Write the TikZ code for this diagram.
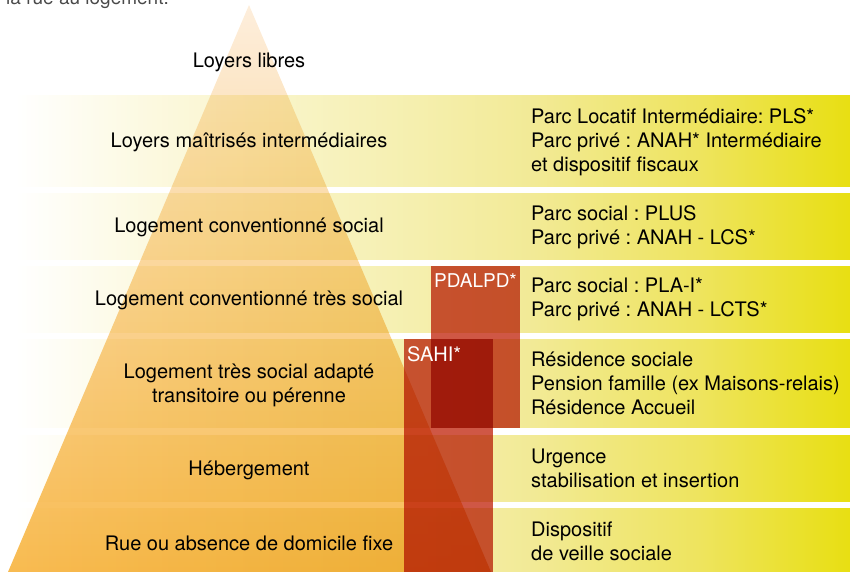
\documentclass[tikz,border=0pt]{standalone}
\usepackage{fontspec}
\setmainfont{TeX Gyre Heros}
\frenchspacing

\definecolor{bandpale}{HTML}{F5EFAE}
\definecolor{bandmid}{HTML}{F2EA96}
\definecolor{bandlow}{HTML}{FCF9E0}
\definecolor{bandhigh}{HTML}{EEE45E}
\definecolor{banddeep}{HTML}{E8DF12}
\definecolor{pyrtop}{HTML}{FDEEDC}
\definecolor{pyrbot}{HTML}{F8BB51}
\definecolor{redbox}{HTML}{CF5745}
\definecolor{introgray}{HTML}{4A4A4A}

\pgfdeclarehorizontalshading{bandfade}{100bp}{color(0bp)=(white); color(25bp)=(white); color(33bp)=(bandlow); color(49bp)=(bandpale); color(56bp)=(bandmid); color(66bp)=(bandhigh); color(75bp)=(banddeep); color(100bp)=(banddeep)}

\begin{document}
\begin{tikzpicture}[x=1pt,y=-1pt,
		lvl/.style={align=center,inner sep=0pt,font=\fontsize{20}{24}\selectfont},
		offer/.style={align=left,anchor=west,inner sep=0pt,font=\fontsize{20}{24}\selectfont},
		tag/.style={anchor=base west,inner sep=0pt,text=white}]
			\useasboundingbox (0,0) rectangle (850,572);
			\node[anchor=base west,inner sep=0pt,text=introgray,font=\fontsize{19}{22}\selectfont] (intro) at (6,5) {la rue au logement.};
			% bandes
			\shade[shading=bandfade] (15,96) rectangle (850,186);
			\shade[shading=bandfade] (15,193) rectangle (850,259);
			\shade[shading=bandfade] (15,266) rectangle (850,332);
			\shade[shading=bandfade] (15,339) rectangle (850,427);
			\shade[shading=bandfade] (15,435) rectangle (850,501);
			\shade[shading=bandfade] (15,508) rectangle (850,572);
			% pyramide
			\shade[top color=pyrtop,bottom color=pyrbot,blend mode=multiply] (249,5) -- (8,572) -- (491,572) -- cycle;
			% dispositifs
			\fill[redbox,blend mode=multiply] (431,266) rectangle (520,428);
			\fill[redbox,blend mode=multiply] (404,339) rectangle (493,572);
			\node[tag,font=\fontsize{19}{22}\selectfont] (pdalpd) at (434,287) {PDALPD*};
			\node[tag,font=\fontsize{20}{22}\selectfont] (sahi) at (407,361) {SAHI*};
			% niveaux
			\node[lvl] (libres) at (249,62) {Loyers libres};
			\node[lvl] (maitrises) at (249,142) {Loyers maîtrisés intermédiaires};
			\node[lvl] (social) at (249,227) {Logement conventionné social};
			\node[lvl] (tressocial) at (249,300) {Logement conventionné très social};
			\node[lvl] (adapte) at (249,385) {Logement très social adapté\\transitoire ou pérenne};
			\node[lvl] (heberg) at (249,470) {Hébergement};
			\node[lvl] (rue) at (249,543) {Rue ou absence de domicile fixe};
			% offres
			\node[offer] (pls) at (531,142) {Parc Locatif Intermédiaire: PLS*\\Parc privé : ANAH* Intermédiaire\\et dispositif fiscaux};
			\node[offer] (plus) at (531,227) {Parc social : PLUS\\Parc privé : ANAH - LCS*};
			\node[offer] (plai) at (531,299) {Parc social : PLA-I*\\Parc privé : ANAH - LCTS*};
			\node[offer] (residence) at (531,383) {Résidence sociale\\Pension famille (ex Maisons-relais)\\Résidence Accueil};
			\node[offer] (urgence) at (531,468) {Urgence\\stabilisation et insertion};
			\node[offer] (veille) at (531,541) {Dispositif\\de veille sociale};
		\end{tikzpicture}
\end{document}
